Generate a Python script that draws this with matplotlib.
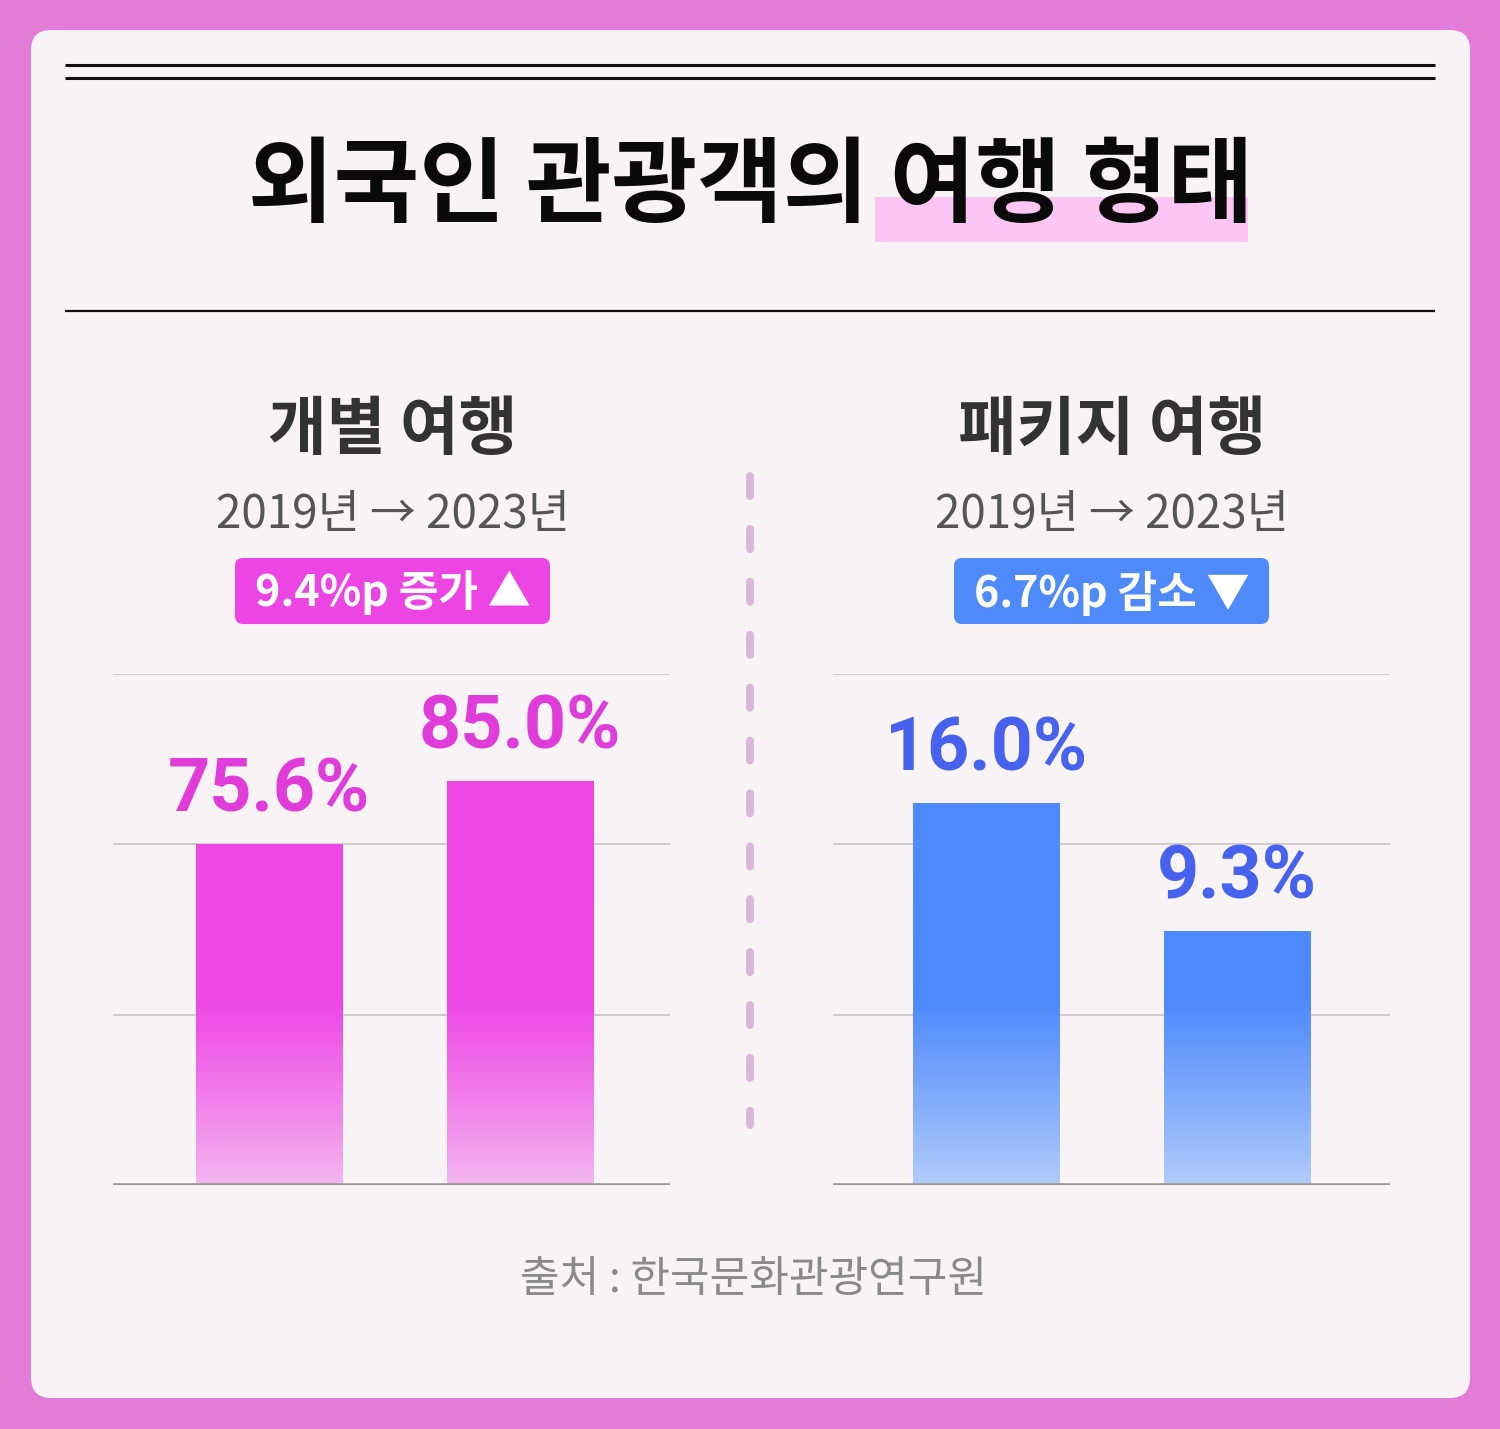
import numpy as np
import matplotlib
matplotlib.use('agg')
import matplotlib.pyplot as plt
from matplotlib.patches import FancyBboxPatch, Rectangle
from matplotlib.colors import to_rgb

plt.rcParams['font.family'] = ['Noto Sans CJK KR', 'DejaVu Sans']

# data
title = '외국인 관광객의 여행 형태'
period_label = '2019년 → 2023년'
source = '출처 : 한국문화관광연구원'

indiv_name = '개별 여행'
indiv_vals = [75.6, 85.0]
indiv_badge = '9.4%p 증가 ▲'

pkg_name = '패키지 여행'
pkg_vals = [16.0, 9.3]
pkg_badge = '6.7%p 감소 ▼'

W, H = 1500, 1429
fig = plt.figure(figsize=(W / 100, H / 100), dpi=100)
fig.patch.set_facecolor('#E37BD8')

# background layer in pixel coords
bg = fig.add_axes([0, 0, 1, 1])
bg.set_xlim(0, W)
bg.set_ylim(H, 0)
bg.axis('off')

card = FancyBboxPatch((31 + 20, 30 + 20), 1439 - 40, 1368 - 40,
                      boxstyle='round,pad=20', fc='#F8F4F5', ec='none')
bg.add_patch(card)

bg.plot([65, 1435], [65, 65], color='#111111', lw=2.2, solid_capstyle='butt')
bg.plot([65, 1435], [78, 78], color='#111111', lw=2.2, solid_capstyle='butt')
bg.plot([65, 1435], [311, 311], color='#111111', lw=1.6, solid_capstyle='butt')

# title highlight
bg.add_patch(Rectangle((875, 197), 373, 45, fc='#FCC6F4', ec='none', zorder=1))
bg.text(751, 187, title, ha='center', va='center', fontsize=67,
        fontweight='black', color='#0A0A0A', zorder=2)

# dashed divider
bg.plot([750, 750], [476, 1125], color='#D9B6DA', lw=5.6,
        dashes=(2.6, 4.2), dash_capstyle='round', solid_capstyle='round')


def panel(cx, name, badge, badge_color):
    bg.text(cx, 430, name, ha='center', va='center', fontsize=46,
            fontweight='bold', color='#333333')
    bg.text(cx, 515, period_label, ha='center', va='center', fontsize=33,
            color='#555555')
    bx0 = cx - 158
    bg.add_patch(FancyBboxPatch((bx0 + 8, 558 + 8), 315 - 16, 66 - 16,
                                boxstyle='round,pad=8', fc=badge_color, ec='none'))
    bg.text(cx, 593, badge, ha='center', va='center', fontsize=31,
            fontweight='bold', color='white')


panel(393, indiv_name, indiv_badge, '#EC45E4')
panel(1112, pkg_name, pkg_badge, '#4F8AFA')

bg.text(753, 1280, source, ha='center', va='center', fontsize=31,
        color='#8A8A8A')


def bar_chart(left_px, vals, ylo, yhi, x0, solid, light, label_color):
    ax = fig.add_axes([left_px / W, (H - 1185) / H, 557 / W, 511 / H])
    ax.set_facecolor('none')
    ax.set_xlim(x0, x0 + 2.223)
    ax.set_ylim(ylo, yhi)
    for s in ax.spines.values():
        s.set_visible(False)
    ax.set_xticks([])
    ax.set_yticks([])
    # horizontal guides
    for f in [1 / 3, 2 / 3, 1.0]:
        ax.axhline(ylo + (yhi - ylo) * f, color='#D0CCCC', lw=1.5, zorder=0)
    ax.axhline(ylo, color='#999999', lw=2.6, zorder=4)

    x = np.arange(len(vals))
    bars = ax.bar(x, np.array(vals) - ylo, bottom=ylo, width=0.583,
                  color='none', zorder=2)

    # vertical gradient, solid at the top, fading near the baseline
    t = np.linspace(0, 1, 256)
    k = np.clip(t / 0.36, 0, 1) ** 0.9
    c0, c1 = np.array(to_rgb(light)), np.array(to_rgb(solid))
    grad = (c0[None, :] + (c1 - c0)[None, :] * k[:, None])[:, None, :]
    for b in bars:
        im = ax.imshow(grad, extent=[0, 1, 0, 1], transform=ax.transAxes,
                       origin='lower', aspect='auto', zorder=2)
        im.set_clip_path(b)

    for xi, v in zip(x, vals):
        ax.annotate(f'{v:.1f}%', (xi, v), xytext=(0, 23),
                    textcoords='offset points', ha='center', va='baseline',
                    fontsize=53, fontweight='bold', color=label_color,
                    family=['Roboto', 'DejaVu Sans'], annotation_clip=False)
    return ax


bar_chart(113, indiv_vals, 24.5, 101.0, -0.623, '#EE47E5', '#F3B7EF', '#E03CDA')
bar_chart(833, pkg_vals, -4.0, 22.75, -0.611, '#4F8AFC', '#B3CDFA', '#4862F0')

fig.savefig('out.png', dpi=100, facecolor=fig.get_facecolor())
